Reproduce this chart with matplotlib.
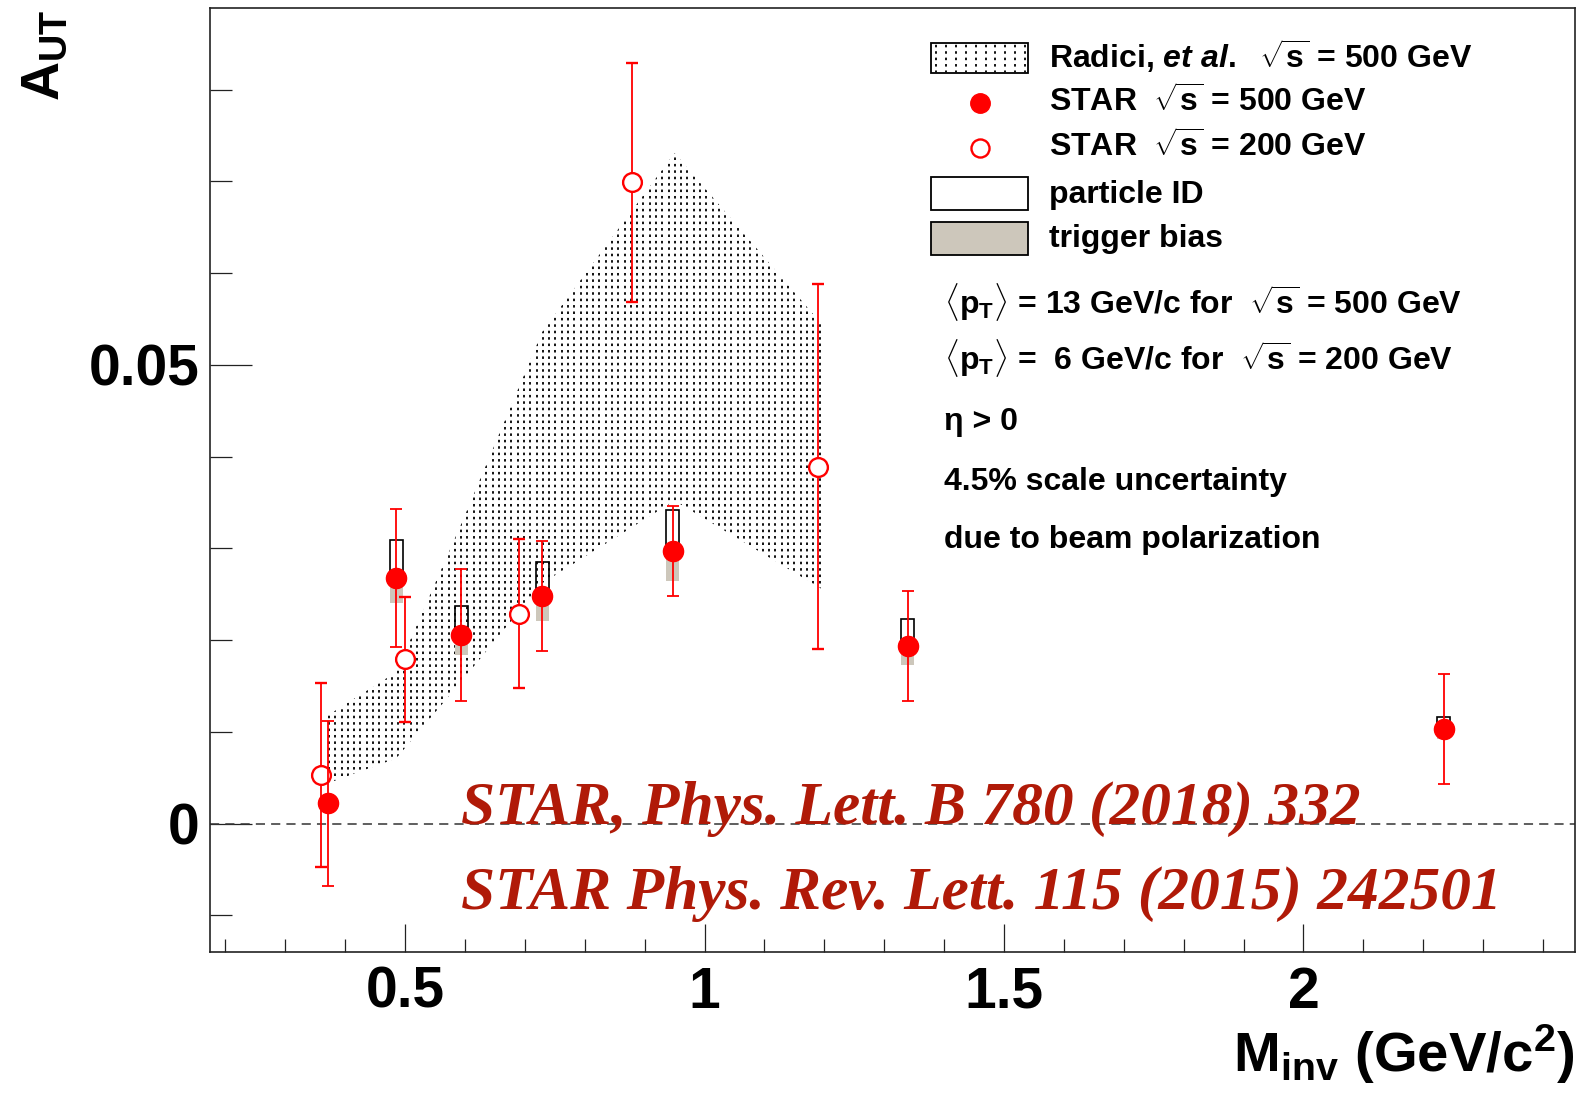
import numpy as np
import matplotlib
matplotlib.use('Agg')
import matplotlib.pyplot as plt
from matplotlib.patches import Polygon, Rectangle
from matplotlib.collections import LineCollection

# STAR sqrt(s) = 500 GeV points with systematic boxes
m500 = [0.371, 0.485, 0.594, 0.729, 0.947, 1.339, 2.234]
a500 = [0.0022, 0.0268, 0.0206, 0.0248, 0.0297, 0.0194, 0.0103]
err500 = [0.0090, 0.0075, 0.0072, 0.0060, 0.0049, 0.0060, 0.0060]
pid500 = [0.0006, 0.0041, 0.0031, 0.0037, 0.0045, 0.0029, 0.0013]
trig500 = [0.0006, 0.0028, 0.0022, 0.0027, 0.0033, 0.0021, 0.0011]

# STAR sqrt(s) = 200 GeV points
m200 = [0.359, 0.500, 0.690, 0.879, 1.190]
a200 = [0.0053, 0.0179, 0.0229, 0.0699, 0.0389]
err200 = [0.0100, 0.0068, 0.0081, 0.0130, 0.0199]

# Radici et al. prediction band
theo_m = [0.371, 0.485, 0.594, 0.729, 0.950, 1.195]
theo_hi = [0.0118, 0.0165, 0.0327, 0.0536, 0.0731, 0.0545]
theo_lo = [0.0044, 0.0071, 0.0155, 0.0262, 0.0352, 0.0256]

RED = '#ff0000'
GRAY = '#cdc7bb'
CITE = '#b01a08'

plt.rcParams['font.family'] = ['Liberation Sans', 'DejaVu Sans']
plt.rcParams['font.weight'] = 'bold'
plt.rcParams['mathtext.fontset'] = 'custom'
plt.rcParams['mathtext.rm'] = 'Liberation Sans:bold'
plt.rcParams['mathtext.bf'] = 'Liberation Sans:bold'
plt.rcParams['mathtext.it'] = 'Liberation Sans:bold:italic'

fig = plt.figure(figsize=(15.88, 10.95), dpi=100)
ax = fig.add_axes([0.1320, 0.1306, 0.8597, 0.8620])
ax.set_xlim(0.1736, 2.4532)
ax.set_ylim(-0.0140, 0.0889)


def dotted_fill(ax, clip, x0, x1, step, y0, y1, transform, zorder=1):
    # ROOT-like dotted fill: columns of short dashes clipped to a shape
    xs = np.arange(x0, x1, step)
    segs = [[(x, y0), (x, y1)] for x in xs]
    lc = LineCollection(segs, colors='#111111', linewidths=1.4,
                        linestyles=[(0, (1.3, 2.0))], transform=transform,
                        zorder=zorder)
    ax.add_collection(lc)
    lc.set_clip_path(clip)
    return lc


# theory band
band_xy = list(zip(theo_m, theo_hi)) + list(zip(theo_m[::-1], theo_lo[::-1]))
band = Polygon(band_xy, closed=True, fill=False, lw=0, zorder=1)
ax.add_patch(band)
dotted_fill(ax, band, theo_m[0] + 0.002, theo_m[-1], 0.0105,
            -0.02, 0.1, ax.transData)

# zero line
ax.axhline(0, color='#333333', lw=1.1, ls=(0, (6, 4)), zorder=2)

# systematic boxes
box_w = 0.0215
a500_arr = np.array(a500)
ax.bar(m500, trig500, width=box_w, bottom=a500_arr - np.array(trig500),
       color=GRAY, edgecolor='none', zorder=3)
ax.bar(m500, pid500, width=box_w, bottom=a500_arr, fill=False,
       edgecolor='black', lw=1.2, zorder=3)

# data points
ax.errorbar(m200, a200, yerr=err200, fmt='o', color=RED, mfc='white',
            mec=RED, mew=1.7, ms=13.5, elinewidth=1.3, capsize=4.3,
            capthick=1.3, zorder=5)
ax.errorbar(m500, a500, yerr=err500, fmt='o', color=RED, ms=14.5,
            elinewidth=1.3, capsize=4.3, capthick=1.3, zorder=6)

# axes styling
for s in ax.spines.values():
    s.set_linewidth(1.2)
    s.set_color('#222222')
ax.set_xticks([0.5, 1.0, 1.5, 2.0])
ax.set_xticklabels(['0.5', '1', '1.5', '2'])
ax.set_xticks(np.arange(0.2, 2.45, 0.1), minor=True)
ax.set_yticks([0.0, 0.05])
ax.set_yticklabels(['0', '0.05'])
ax.set_yticks(np.arange(-0.01, 0.085, 0.01), minor=True)
ax.tick_params(axis='both', which='both', direction='in', top=False,
               right=False, width=0.9, color='#222222')
ax.tick_params(axis='x', which='major', length=20, pad=10, labelsize=41)
ax.tick_params(axis='x', which='minor', length=9.6)
ax.tick_params(axis='y', which='major', length=30, pad=7, labelsize=41)
ax.tick_params(axis='y', which='minor', length=15.6)

# axis titles
ax.text(1.0, -0.1275, r'M$_{\mathrm{inv}}$ (GeV/c$^{\mathrm{2}}$)',
        transform=ax.transAxes, ha='right', va='baseline', fontsize=40.5)
ax.text(-0.1206, 0.999, r'A$_{\mathrm{UT}}$', transform=ax.transAxes,
        rotation=90, ha='center', va='top', fontsize=39)

# legend
key_x0, key_x1 = 0.5284, 0.5995
tr = ax.transAxes
band_key = Rectangle((key_x0, 0.9310), key_x1 - key_x0, 0.0317,
                     transform=tr, fill=False, ec='black', lw=1.3, zorder=7)
ax.add_patch(band_key)
dotted_fill(ax, band_key, key_x0 + 0.004, key_x1, 0.0072,
            0.9310, 0.9627, tr, zorder=7)
ax.add_patch(Rectangle((key_x0, 0.7861), key_x1 - key_x0, 0.0353,
                       transform=tr, fc='white', ec='black', lw=1.3, zorder=7))
ax.add_patch(Rectangle((key_x0, 0.7384), key_x1 - key_x0, 0.0353,
                       transform=tr, fc=GRAY, ec='black', lw=1.3, zorder=7))
ax.plot([0.5643], [0.8991], 'o', color=RED, ms=14, transform=tr, zorder=7)
ax.plot([0.5643], [0.8514], 'o', mfc='white', mec=RED, mew=1.7, ms=13,
        transform=tr, zorder=7)

leg_fs = 23
leg_x = 0.6149
ax.text(leg_x, 0.9362, r'Radici, $\mathit{et\ al.}$  $\sqrt{\mathrm{s}}$ = 500 GeV',
        transform=tr, fontsize=leg_fs, va='baseline')
ax.text(leg_x, 0.8899, r'STAR  $\sqrt{\mathrm{s}}$ = 500 GeV',
        transform=tr, fontsize=leg_fs, va='baseline')
ax.text(leg_x, 0.8422, r'STAR  $\sqrt{\mathrm{s}}$ = 200 GeV',
        transform=tr, fontsize=leg_fs, va='baseline')
ax.text(leg_x, 0.7936, 'particle ID', transform=tr, fontsize=leg_fs,
        va='baseline')
ax.text(leg_x, 0.7470, 'trigger bias', transform=tr, fontsize=leg_fs,
        va='baseline')

note_x = 0.5380
notes = [
    (0.6767, r'$\langle\mathrm{p}_{\mathrm{T}}\rangle$ = 13 GeV/c for  $\sqrt{\mathrm{s}}$ = 500 GeV'),
    (0.6166, r'$\langle\mathrm{p}_{\mathrm{T}}\rangle$ =  6 GeV/c for  $\sqrt{\mathrm{s}}$ = 200 GeV'),
    (0.5530, 'η > 0'),
    (0.4895, '4.5% scale uncertainty'),
    (0.4277, 'due to beam polarization'),
]
for y, s in notes:
    ax.text(note_x, y, s, transform=tr, fontsize=leg_fs, va='baseline')

# publication references
cite_kw = dict(transform=tr, fontsize=44.2, color=CITE, va='baseline',
               family='Liberation Serif', weight='bold', style='italic',
               zorder=8)
ax.text(0.1840, 0.1356, 'STAR, Phys. Lett. B 780 (2018) 332', **cite_kw)
ax.text(0.1840, 0.0460, 'STAR Phys. Rev. Lett. 115 (2015) 242501', **cite_kw)

fig.savefig('out.png', dpi=100)
